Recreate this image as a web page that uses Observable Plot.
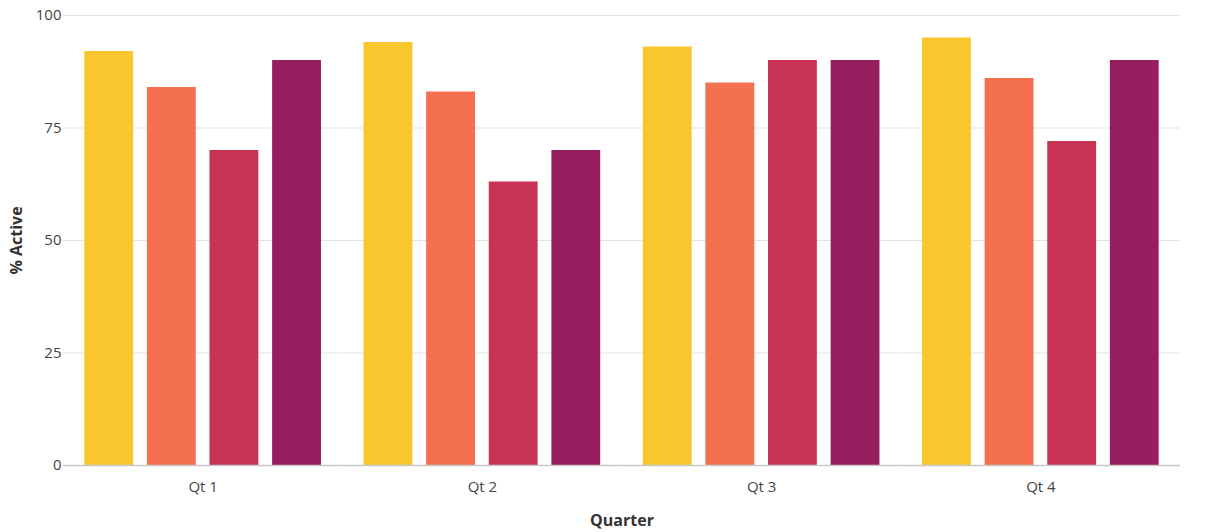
<!DOCTYPE html>
<html>
<head>
<meta charset="utf-8">
<script src="https://cdn.jsdelivr.net/npm/d3@7"></script>
<script src="https://cdn.jsdelivr.net/npm/@observablehq/plot@0.6"></script>
<style>
  html, body { margin: 0; padding: 0; background: #fff; }
  #chart { width: 1212px; height: 532px; }
</style>
</head>
<body>
<div id="chart"></div>
<script>
const quarters = ["Qt 1", "Qt 2", "Qt 3", "Qt 4"];
const seriesNames = ["Series 1", "Series 2", "Series 3", "Series 4"];
const series1 = [92, 94, 93, 95];
const series2 = [84, 83, 85, 86];
const series3 = [70, 63, 90, 72];
const series4 = [90, 70, 90, 90];
const seriesColors = ["#F9C72D", "#F4704E", "#C93353", "#971F60"];
const yTicks = [0, 25, 50, 75, 100];

const allSeries = [series1, series2, series3, series4];
const data = [];
quarters.forEach((q, i) => {
  seriesNames.forEach((s, j) => {
    data.push({quarter: q, series: s, value: allSeries[j][i]});
  });
});

const chart = Plot.plot({
  width: 1212,
  height: 532,
  marginLeft: 63,
  marginRight: 32,
  marginTop: 15,
  marginBottom: 67,
  style: {fontFamily: "'Open Sans', sans-serif", fontSize: "15px", color: "#444", background: "#fff"},
  fx: {domain: quarters, padding: 0, round: false},
  x: {domain: seriesNames, paddingInner: 0.22, paddingOuter: 0.34, round: false, axis: null},
  y: {domain: [0, 100]},
  color: {domain: seriesNames, range: seriesColors},
  marks: [
    Plot.ruleY(yTicks, {stroke: "#e3e3e3", strokeWidth: 1}),
    Plot.barY(data, {fx: "quarter", x: "series", y: "value", fill: "series"}),
    Plot.ruleY([0], {stroke: "#c8c8c8", strokeWidth: 1.5}),
    Plot.axisY({
      ticks: yTicks, tickSize: 0, tickPadding: 2,
      label: "% Active", labelAnchor: "center", labelArrow: "none", labelOffset: 53,
      fill: "#444"
    }),
    Plot.axisFx({
      anchor: "bottom", tickSize: 0, tickPadding: 16,
      label: "Quarter", labelAnchor: "center", labelArrow: "none", labelOffset: 60,
      fill: "#444"
    })
  ]
});

d3.select(chart).selectAll("[aria-label='y-axis label'] text, [aria-label='fx-axis label'] text")
  .style("font-weight", "bold").style("font-size", "16px").attr("fill", "#333");
document.getElementById("chart").appendChild(chart);
</script>
</body>
</html>
